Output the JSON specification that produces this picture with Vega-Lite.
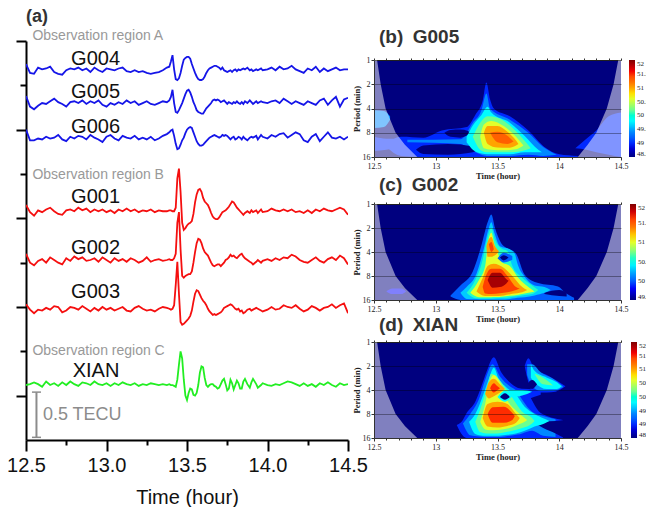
{"$schema":"https://vega.github.io/schema/vega-lite/v6.json","padding":{"left":6,"top":8,"right":0,"bottom":0},"background":"white","config":{"view":{"stroke":null},"font":"Liberation Sans"},"spacing":-16,"resolve":{"scale":{"color":"independent"},"legend":{"color":"independent"}},"datasets":{
"lines":[
{"t":12.5,"G004":4.24,"G005":3.88,"G006":3.5,"G001":2.65,"G002":2.1,"G003":1.53,"XIAN":0.62},
{"t":12.525,"G004":4.14,"G005":3.76,"G006":3.38,"G001":2.57,"G002":2.0,"G003":1.47,"XIAN":0.63},
{"t":12.55,"G004":4.13,"G005":3.73,"G006":3.38,"G001":2.53,"G002":1.97,"G003":1.43,"XIAN":0.65},
{"t":12.575,"G004":4.2,"G005":3.77,"G006":3.4,"G001":2.59,"G002":2.02,"G003":1.47,"XIAN":0.63},
{"t":12.6,"G004":4.18,"G005":3.8,"G006":3.39,"G001":2.57,"G002":2.04,"G003":1.46,"XIAN":0.6},
{"t":12.625,"G004":4.19,"G005":3.79,"G006":3.42,"G001":2.6,"G002":2.0,"G003":1.49,"XIAN":0.66},
{"t":12.65,"G004":4.21,"G005":3.82,"G006":3.4,"G001":2.62,"G002":2.06,"G003":1.47,"XIAN":0.62},
{"t":12.675,"G004":4.15,"G005":3.85,"G006":3.41,"G001":2.58,"G002":2.03,"G003":1.51,"XIAN":0.64},
{"t":12.7,"G004":4.13,"G005":3.81,"G006":3.44,"G001":2.55,"G002":2.0,"G003":1.5,"XIAN":0.61},
{"t":12.725,"G004":4.12,"G005":3.79,"G006":3.39,"G001":2.54,"G002":1.98,"G003":1.44,"XIAN":0.65},
{"t":12.75,"G004":4.17,"G005":3.76,"G006":3.37,"G001":2.59,"G002":2.05,"G003":1.46,"XIAN":0.62},
{"t":12.775,"G004":4.19,"G005":3.81,"G006":3.42,"G001":2.6,"G002":2.02,"G003":1.5,"XIAN":0.66},
{"t":12.8,"G004":4.18,"G005":3.82,"G006":3.4,"G001":2.58,"G002":2.07,"G003":1.49,"XIAN":0.63},
{"t":12.825,"G004":4.2,"G005":3.8,"G006":3.43,"G001":2.62,"G002":2.04,"G003":1.47,"XIAN":0.61},
{"t":12.85,"G004":4.17,"G005":3.83,"G006":3.42,"G001":2.59,"G002":2.06,"G003":1.51,"XIAN":0.65},
{"t":12.875,"G004":4.19,"G005":3.79,"G006":3.39,"G001":2.61,"G002":2.02,"G003":1.48,"XIAN":0.64},
{"t":12.9,"G004":4.15,"G005":3.82,"G006":3.44,"G001":2.57,"G002":2.03,"G003":1.45,"XIAN":0.62},
{"t":12.925,"G004":4.2,"G005":3.8,"G006":3.41,"G001":2.6,"G002":2.05,"G003":1.49,"XIAN":0.66},
{"t":12.95,"G004":4.17,"G005":3.83,"G006":3.39,"G001":2.58,"G002":2.01,"G003":1.46,"XIAN":0.63},
{"t":12.975,"G004":4.15,"G005":3.78,"G006":3.36,"G001":2.6,"G002":2.06,"G003":1.5,"XIAN":0.62},
{"t":13.0,"G004":4.19,"G005":3.76,"G006":3.42,"G001":2.57,"G002":2.03,"G003":1.47,"XIAN":0.64},
{"t":13.025,"G004":4.18,"G005":3.8,"G006":3.44,"G001":2.59,"G002":2.0,"G003":1.49,"XIAN":0.61},
{"t":13.05,"G004":4.17,"G005":3.78,"G006":3.4,"G001":2.56,"G002":2.05,"G003":1.46,"XIAN":0.64},
{"t":13.075,"G004":4.19,"G005":3.81,"G006":3.38,"G001":2.6,"G002":2.02,"G003":1.48,"XIAN":0.62},
{"t":13.1,"G004":4.2,"G005":3.79,"G006":3.43,"G001":2.58,"G002":2.04,"G003":1.5,"XIAN":0.65},
{"t":13.125,"G004":4.16,"G005":3.83,"G006":3.41,"G001":2.61,"G002":2.01,"G003":1.46,"XIAN":0.63},
{"t":13.15,"G004":4.15,"G005":3.8,"G006":3.4,"G001":2.58,"G002":2.05,"G003":1.45,"XIAN":0.62},
{"t":13.175,"G004":4.17,"G005":3.82,"G006":3.43,"G001":2.6,"G002":2.03,"G003":1.49,"XIAN":0.64},
{"t":13.2,"G004":4.15,"G005":3.78,"G006":3.39,"G001":2.57,"G002":2.0,"G003":1.51,"XIAN":0.61},
{"t":13.225,"G004":4.16,"G005":3.8,"G006":3.41,"G001":2.59,"G002":2.02,"G003":1.48,"XIAN":0.63},
{"t":13.25,"G004":4.14,"G005":3.82,"G006":3.39,"G001":2.58,"G002":2.06,"G003":1.46,"XIAN":0.62},
{"t":13.275,"G004":4.13,"G005":3.79,"G006":3.42,"G001":2.6,"G002":2.01,"G003":1.47,"XIAN":0.64},
{"t":13.3,"G004":4.14,"G005":3.78,"G006":3.38,"G001":2.57,"G002":2.03,"G003":1.45,"XIAN":0.63},
{"t":13.325,"G004":4.15,"G005":3.8,"G006":3.4,"G001":2.59,"G002":2.04,"G003":1.48,"XIAN":0.62},
{"t":13.35,"G004":4.17,"G005":3.82,"G006":3.43,"G001":2.58,"G002":2.02,"G003":1.5,"XIAN":0.63},
{"t":13.375,"G004":4.2,"G005":3.81,"G006":3.45,"G001":2.58,"G002":2.03,"G003":1.49,"XIAN":0.62},
{"t":13.39,"G004":4.21,"G005":3.83,"G006":3.47,"G001":2.59,"G002":2.04,"G003":1.48,"XIAN":0.63},
{"t":13.4,"G004":4.27,"G005":3.87,"G006":3.49,"G001":2.59,"G002":2.03,"G003":1.47,"XIAN":0.62},
{"t":13.41,"G004":4.34,"G005":3.95,"G006":3.5,"G001":2.58,"G002":2.03,"G003":1.48,"XIAN":0.62},
{"t":13.42,"G004":4.18,"G005":3.8,"G006":3.43,"G001":2.58,"G002":2.05,"G003":1.52,"XIAN":0.61},
{"t":13.43,"G004":4.07,"G005":3.7,"G006":3.34,"G001":2.62,"G002":2.1,"G003":1.75,"XIAN":0.6},
{"t":13.44,"G004":4.06,"G005":3.69,"G006":3.28,"G001":2.95,"G002":2.45,"G003":2.01,"XIAN":0.68},
{"t":13.45,"G004":4.08,"G005":3.72,"G006":3.29,"G001":3.06,"G002":2.57,"G003":1.65,"XIAN":0.85},
{"t":13.46,"G004":4.14,"G005":3.76,"G006":3.33,"G001":2.8,"G002":2.15,"G003":1.33,"XIAN":1.0},
{"t":13.47,"G004":4.22,"G005":3.8,"G006":3.38,"G001":2.45,"G002":1.85,"G003":1.3,"XIAN":0.92},
{"t":13.48,"G004":4.29,"G005":3.85,"G006":3.41,"G001":2.37,"G002":1.83,"G003":1.31,"XIAN":0.68},
{"t":13.49,"G004":4.31,"G005":3.9,"G006":3.46,"G001":2.39,"G002":1.85,"G003":1.33,"XIAN":0.5},
{"t":13.5,"G004":4.32,"G005":3.94,"G006":3.5,"G001":2.42,"G002":1.86,"G003":1.35,"XIAN":0.45},
{"t":13.51,"G004":4.32,"G005":3.95,"G006":3.52,"G001":2.44,"G002":1.87,"G003":1.37,"XIAN":0.53},
{"t":13.52,"G004":4.3,"G005":3.92,"G006":3.53,"G001":2.45,"G002":1.87,"G003":1.4,"XIAN":0.58},
{"t":13.53,"G004":4.24,"G005":3.87,"G006":3.52,"G001":2.47,"G002":1.9,"G003":1.46,"XIAN":0.57},
{"t":13.54,"G004":4.19,"G005":3.81,"G006":3.47,"G001":2.55,"G002":2.0,"G003":1.56,"XIAN":0.51},
{"t":13.55,"G004":4.14,"G005":3.77,"G006":3.42,"G001":2.68,"G002":2.12,"G003":1.65,"XIAN":0.5},
{"t":13.56,"G004":4.1,"G005":3.72,"G006":3.37,"G001":2.77,"G002":2.22,"G003":1.69,"XIAN":0.53},
{"t":13.57,"G004":4.07,"G005":3.7,"G006":3.34,"G001":2.82,"G002":2.27,"G003":1.68,"XIAN":0.62},
{"t":13.58,"G004":4.06,"G005":3.69,"G006":3.32,"G001":2.83,"G002":2.26,"G003":1.64,"XIAN":0.76},
{"t":13.59,"G004":4.06,"G005":3.68,"G006":3.32,"G001":2.8,"G002":2.22,"G003":1.6,"XIAN":0.83},
{"t":13.6,"G004":4.07,"G005":3.68,"G006":3.33,"G001":2.73,"G002":2.16,"G003":1.57,"XIAN":0.82},
{"t":13.61,"G004":4.1,"G005":3.71,"G006":3.35,"G001":2.69,"G002":2.12,"G003":1.55,"XIAN":0.7},
{"t":13.62,"G004":4.14,"G005":3.74,"G006":3.37,"G001":2.67,"G002":2.1,"G003":1.52,"XIAN":0.62},
{"t":13.63,"G004":4.17,"G005":3.76,"G006":3.39,"G001":2.65,"G002":2.08,"G003":1.48,"XIAN":0.6},
{"t":13.64,"G004":4.19,"G005":3.78,"G006":3.41,"G001":2.61,"G002":2.04,"G003":1.45,"XIAN":0.62},
{"t":13.65,"G004":4.2,"G005":3.8,"G006":3.42,"G001":2.56,"G002":2.0,"G003":1.43,"XIAN":0.63},
{"t":13.66,"G004":4.21,"G005":3.83,"G006":3.43,"G001":2.52,"G002":1.97,"G003":1.41,"XIAN":0.63},
{"t":13.67,"G004":4.22,"G005":3.84,"G006":3.44,"G001":2.5,"G002":1.96,"G003":1.42,"XIAN":0.61},
{"t":13.68,"G004":4.22,"G005":3.83,"G006":3.43,"G001":2.49,"G002":1.97,"G003":1.41,"XIAN":0.6},
{"t":13.69,"G004":4.21,"G005":3.84,"G006":3.42,"G001":2.49,"G002":1.98,"G003":1.42,"XIAN":0.58},
{"t":13.7,"G004":4.2,"G005":3.83,"G006":3.41,"G001":2.51,"G002":1.98,"G003":1.43,"XIAN":0.59},
{"t":13.71,"G004":4.18,"G005":3.81,"G006":3.42,"G001":2.54,"G002":1.96,"G003":1.44,"XIAN":0.63},
{"t":13.72,"G004":4.2,"G005":3.82,"G006":3.44,"G001":2.57,"G002":1.98,"G003":1.46,"XIAN":0.67},
{"t":13.73,"G004":4.17,"G005":3.83,"G006":3.43,"G001":2.58,"G002":2.0,"G003":1.49,"XIAN":0.69},
{"t":13.74,"G004":4.16,"G005":3.81,"G006":3.44,"G001":2.59,"G002":2.03,"G003":1.5,"XIAN":0.63},
{"t":13.75,"G004":4.15,"G005":3.79,"G006":3.43,"G001":2.61,"G002":2.04,"G003":1.51,"XIAN":0.56},
{"t":13.76,"G004":4.16,"G005":3.81,"G006":3.41,"G001":2.63,"G002":2.06,"G003":1.52,"XIAN":0.58},
{"t":13.77,"G004":4.17,"G005":3.8,"G006":3.39,"G001":2.66,"G002":2.09,"G003":1.53,"XIAN":0.68},
{"t":13.78,"G004":4.15,"G005":3.79,"G006":3.41,"G001":2.69,"G002":2.07,"G003":1.52,"XIAN":0.64},
{"t":13.79,"G004":4.17,"G005":3.81,"G006":3.42,"G001":2.68,"G002":2.08,"G003":1.5,"XIAN":0.57},
{"t":13.8,"G004":4.18,"G005":3.8,"G006":3.39,"G001":2.65,"G002":2.06,"G003":1.48,"XIAN":0.62},
{"t":13.81,"G004":4.16,"G005":3.82,"G006":3.4,"G001":2.62,"G002":2.05,"G003":1.47,"XIAN":0.67},
{"t":13.82,"G004":4.18,"G005":3.8,"G006":3.42,"G001":2.6,"G002":2.07,"G003":1.48,"XIAN":0.64},
{"t":13.83,"G004":4.17,"G005":3.79,"G006":3.41,"G001":2.58,"G002":2.09,"G003":1.45,"XIAN":0.58},
{"t":13.84,"G004":4.18,"G005":3.81,"G006":3.39,"G001":2.56,"G002":2.1,"G003":1.46,"XIAN":0.58},
{"t":13.85,"G004":4.19,"G005":3.79,"G006":3.42,"G001":2.54,"G002":2.07,"G003":1.43,"XIAN":0.66},
{"t":13.86,"G004":4.18,"G005":3.82,"G006":3.4,"G001":2.56,"G002":2.05,"G003":1.44,"XIAN":0.69},
{"t":13.875,"G004":4.2,"G005":3.8,"G006":3.38,"G001":2.58,"G002":2.03,"G003":1.47,"XIAN":0.63},
{"t":13.89,"G004":4.17,"G005":3.83,"G006":3.41,"G001":2.56,"G002":2.01,"G003":1.48,"XIAN":0.59},
{"t":13.9,"G004":4.18,"G005":3.81,"G006":3.42,"G001":2.59,"G002":2.0,"G003":1.46,"XIAN":0.65},
{"t":13.91,"G004":4.16,"G005":3.79,"G006":3.41,"G001":2.57,"G002":1.98,"G003":1.47,"XIAN":0.69},
{"t":13.93,"G004":4.18,"G005":3.82,"G006":3.43,"G001":2.59,"G002":2.01,"G003":1.49,"XIAN":0.63},
{"t":13.94,"G004":4.17,"G005":3.8,"G006":3.39,"G001":2.56,"G002":2.03,"G003":1.48,"XIAN":0.59},
{"t":13.96,"G004":4.19,"G005":3.82,"G006":3.44,"G001":2.6,"G002":2.0,"G003":1.46,"XIAN":0.62},
{"t":13.97,"G004":4.17,"G005":3.81,"G006":3.42,"G001":2.57,"G002":2.02,"G003":1.45,"XIAN":0.64},
{"t":14.0,"G004":4.18,"G005":3.8,"G006":3.4,"G001":2.58,"G002":2.04,"G003":1.47,"XIAN":0.62},
{"t":14.025,"G004":4.2,"G005":3.82,"G006":3.44,"G001":2.61,"G002":2.02,"G003":1.5,"XIAN":0.61},
{"t":14.05,"G004":4.17,"G005":3.83,"G006":3.42,"G001":2.59,"G002":2.05,"G003":1.47,"XIAN":0.63},
{"t":14.075,"G004":4.21,"G005":3.8,"G006":3.45,"G001":2.58,"G002":2.03,"G003":1.48,"XIAN":0.62},
{"t":14.1,"G004":4.18,"G005":3.85,"G006":3.46,"G001":2.6,"G002":2.06,"G003":1.52,"XIAN":0.64},
{"t":14.125,"G004":4.19,"G005":3.82,"G006":3.41,"G001":2.58,"G002":2.05,"G003":1.5,"XIAN":0.66},
{"t":14.15,"G004":4.22,"G005":3.79,"G006":3.44,"G001":2.6,"G002":2.09,"G003":1.49,"XIAN":0.65},
{"t":14.175,"G004":4.18,"G005":3.82,"G006":3.47,"G001":2.57,"G002":2.07,"G003":1.52,"XIAN":0.63},
{"t":14.2,"G004":4.16,"G005":3.8,"G006":3.45,"G001":2.58,"G002":2.03,"G003":1.48,"XIAN":0.61},
{"t":14.225,"G004":4.14,"G005":3.78,"G006":3.38,"G001":2.56,"G002":2.01,"G003":1.45,"XIAN":0.64},
{"t":14.25,"G004":4.19,"G005":3.82,"G006":3.36,"G001":2.59,"G002":2.0,"G003":1.47,"XIAN":0.61},
{"t":14.275,"G004":4.17,"G005":3.8,"G006":3.42,"G001":2.56,"G002":2.03,"G003":1.51,"XIAN":0.63},
{"t":14.3,"G004":4.21,"G005":3.78,"G006":3.45,"G001":2.6,"G002":2.06,"G003":1.49,"XIAN":0.6},
{"t":14.325,"G004":4.15,"G005":3.83,"G006":3.37,"G001":2.58,"G002":2.02,"G003":1.46,"XIAN":0.64},
{"t":14.35,"G004":4.19,"G005":3.85,"G006":3.42,"G001":2.61,"G002":2.0,"G003":1.49,"XIAN":0.62},
{"t":14.375,"G004":4.16,"G005":3.78,"G006":3.47,"G001":2.59,"G002":2.04,"G003":1.5,"XIAN":0.65},
{"t":14.4,"G004":4.18,"G005":3.83,"G006":3.41,"G001":2.58,"G002":2.06,"G003":1.53,"XIAN":0.62},
{"t":14.425,"G004":4.2,"G005":3.87,"G006":3.4,"G001":2.6,"G002":2.03,"G003":1.49,"XIAN":0.6},
{"t":14.45,"G004":4.17,"G005":3.76,"G006":3.42,"G001":2.62,"G002":2.08,"G003":1.52,"XIAN":0.64},
{"t":14.475,"G004":4.18,"G005":3.84,"G006":3.39,"G001":2.6,"G002":2.05,"G003":1.54,"XIAN":0.62},
{"t":14.5,"G004":4.18,"G005":3.86,"G006":3.42,"G001":2.54,"G002":1.98,"G003":1.43,"XIAN":0.63}],
"txt":[
{"t":12.5,"v":4.77,"s":"(a)","k":"a"},
{"t":12.54,"v":4.56,"s":"Observation region A","k":"r"},
{"t":12.54,"v":2.99,"s":"Observation region B","k":"r"},
{"t":12.54,"v":1.0,"s":"Observation region C","k":"r"},
{"t":12.78,"v":4.3,"s":"G004","k":"g"},
{"t":12.78,"v":3.92,"s":"G005","k":"g"},
{"t":12.78,"v":3.53,"s":"G006","k":"g"},
{"t":12.78,"v":2.74,"s":"G001","k":"g"},
{"t":12.78,"v":2.17,"s":"G002","k":"g"},
{"t":12.78,"v":1.67,"s":"G003","k":"g"},
{"t":12.79,"v":0.78,"s":"XIAN","k":"g"},
{"t":12.605,"v":0.28,"s":"0.5 TECU","k":"s"}],
"coi":[
{"t":12.5,"p":1},{"t":12.525,"p":1},{"t":12.554,"p":2},{"t":12.594,"p":4},{"t":12.675,"p":8},{"t":12.75,"p":11.3},{"t":12.85,"p":16},
{"t":14.15,"p":16},{"t":14.23,"p":11.3},{"t":14.3,"p":8},{"t":14.385,"p":4},{"t":14.44,"p":2},{"t":14.478,"p":1},{"t":14.5,"p":1}],
"b":[
{"id":"a","t":12.5,"top":4.2,"bot":7,"v":49.4},{"id":"a","t":12.58,"top":4.3,"bot":6.8,"v":49.4},{"id":"a","t":12.63,"top":5,"bot":5.5,"v":49.4},
{"id":"b","t":12.5,"top":9,"bot":13.5,"v":49},{"id":"b","t":12.6,"top":9.5,"bot":13,"v":49},{"id":"b","t":12.72,"top":9.5,"bot":12,"v":49},
{"id":"c","t":14.13,"top":12.5,"bot":12.5,"v":49},{"id":"c","t":14.22,"top":9.5,"bot":13,"v":49},{"id":"c","t":14.3,"top":7.5,"bot":14,"v":49},{"id":"c","t":14.4,"top":5,"bot":15,"v":49},{"id":"c","t":14.5,"top":4.5,"bot":16,"v":49},
{"id":"d","t":12.6,"top":11,"bot":12,"v":49},{"id":"d","t":12.72,"top":9,"bot":15.5,"v":49},{"id":"d","t":12.9,"top":9.2,"bot":16,"v":49},{"id":"d","t":13.05,"top":7.5,"bot":16,"v":49},{"id":"d","t":13.25,"top":6.8,"bot":16,"v":49},{"id":"d","t":13.32,"top":4.8,"bot":16,"v":49},{"id":"d","t":13.38,"top":3.2,"bot":16,"v":49},{"id":"d","t":13.41,"top":1.9,"bot":16,"v":49},{"id":"d","t":13.44,"top":3.1,"bot":16,"v":49},{"id":"d","t":13.47,"top":4,"bot":16,"v":49},{"id":"d","t":13.6,"top":5,"bot":16,"v":49},{"id":"d","t":13.75,"top":7.5,"bot":16,"v":49},{"id":"d","t":13.88,"top":12,"bot":16,"v":49},{"id":"d","t":14,"top":14.8,"bot":16,"v":49},{"id":"d","t":14.15,"top":15.5,"bot":16,"v":49},
{"id":"e","t":12.77,"top":9.8,"bot":10.5,"v":49.4},{"id":"e","t":13.2,"top":9.6,"bot":11,"v":49.4},{"id":"e","t":13.3,"top":6,"bot":13.5,"v":49.4},{"id":"e","t":13.37,"top":4.2,"bot":15,"v":49.4},{"id":"e","t":13.41,"top":2.6,"bot":15.5,"v":49.4},{"id":"e","t":13.44,"top":4,"bot":15.5,"v":49.4},{"id":"e","t":13.6,"top":5.5,"bot":15.5,"v":49.4},{"id":"e","t":13.75,"top":8,"bot":15,"v":49.4},{"id":"e","t":13.87,"top":12,"bot":15.5,"v":49.4},{"id":"e","t":13.98,"top":15,"bot":15,"v":49.4},
{"id":"f","t":12.84,"top":13,"bot":13,"v":48.5},{"id":"f","t":12.9,"top":11.5,"bot":14.7,"v":48.5},{"id":"f","t":13.1,"top":11,"bot":15,"v":48.5},{"id":"f","t":13.3,"top":11.8,"bot":14,"v":48.5},{"id":"f","t":13.34,"top":12.7,"bot":12.7,"v":48.5},
{"id":"g","t":13.07,"top":8,"bot":8,"v":48.5},{"id":"g","t":13.12,"top":7.4,"bot":9,"v":48.5},{"id":"g","t":13.2,"top":7.3,"bot":9.2,"v":48.5},{"id":"g","t":13.26,"top":7.6,"bot":8.5,"v":48.5},{"id":"g","t":13.28,"top":8,"bot":8,"v":48.5},
{"id":"h","t":13.25,"top":9,"bot":10.5,"v":49.8},{"id":"h","t":13.3,"top":6.5,"bot":13,"v":49.8},{"id":"h","t":13.37,"top":4.8,"bot":14.5,"v":49.8},{"id":"h","t":13.42,"top":3.8,"bot":14.8,"v":49.8},{"id":"h","t":13.45,"top":4.5,"bot":14.8,"v":49.8},{"id":"h","t":13.6,"top":6,"bot":14.8,"v":49.8},{"id":"h","t":13.72,"top":8.8,"bot":14,"v":49.8},{"id":"h","t":13.83,"top":13,"bot":14,"v":49.8},{"id":"h","t":13.86,"top":14,"bot":14,"v":49.8},
{"id":"i","t":13.3,"top":9,"bot":9,"v":50.2},{"id":"i","t":13.36,"top":6,"bot":13,"v":50.2},{"id":"i","t":13.42,"top":5,"bot":14,"v":50.2},{"id":"i","t":13.5,"top":5.2,"bot":14,"v":50.2},{"id":"i","t":13.6,"top":6.5,"bot":14,"v":50.2},{"id":"i","t":13.7,"top":9.3,"bot":13.5,"v":50.2},{"id":"i","t":13.77,"top":12.5,"bot":12.5,"v":50.2},
{"id":"j","t":13.36,"top":9,"bot":9,"v":50.6},{"id":"j","t":13.39,"top":6.3,"bot":12.5,"v":50.6},{"id":"j","t":13.45,"top":5.7,"bot":13,"v":50.6},{"id":"j","t":13.55,"top":6.6,"bot":13.2,"v":50.6},{"id":"j","t":13.65,"top":9,"bot":12.8,"v":50.6},{"id":"j","t":13.71,"top":11.5,"bot":11.5,"v":50.6},
{"id":"k","t":13.39,"top":8,"bot":8,"v":51},{"id":"k","t":13.42,"top":6.6,"bot":11,"v":51},{"id":"k","t":13.5,"top":6.6,"bot":12.2,"v":51},{"id":"k","t":13.58,"top":7.8,"bot":12.3,"v":51},{"id":"k","t":13.65,"top":10,"bot":11.5,"v":51},{"id":"k","t":13.67,"top":11,"bot":11,"v":51},
{"id":"l","t":13.44,"top":8,"bot":8,"v":51.3},{"id":"l","t":13.5,"top":7.8,"bot":10.5,"v":51.3},{"id":"l","t":13.58,"top":8.7,"bot":11,"v":51.3},{"id":"l","t":13.63,"top":10.3,"bot":10.3,"v":51.3}],
"c":[
{"id":"a","t":12.6,"top":12.5,"bot":12.5,"v":49.8},{"id":"a","t":12.65,"top":11.5,"bot":13.5,"v":49.8},{"id":"a","t":12.72,"top":11.5,"bot":13.5,"v":49.8},{"id":"a","t":12.76,"top":12.5,"bot":12.5,"v":49.8},
{"id":"b","t":13.12,"top":14,"bot":14.5,"v":50},{"id":"b","t":13.2,"top":10.5,"bot":16,"v":50},{"id":"b","t":13.3,"top":7,"bot":16,"v":50},{"id":"b","t":13.37,"top":3.3,"bot":16,"v":50},{"id":"b","t":13.42,"top":1.7,"bot":16,"v":50},{"id":"b","t":13.45,"top":1.35,"bot":16,"v":50},{"id":"b","t":13.48,"top":2,"bot":16,"v":50},{"id":"b","t":13.53,"top":3.1,"bot":16,"v":50},{"id":"b","t":13.58,"top":3.6,"bot":16,"v":50},{"id":"b","t":13.65,"top":4.2,"bot":16,"v":50},{"id":"b","t":13.72,"top":7.7,"bot":16,"v":50},{"id":"b","t":13.83,"top":9.8,"bot":16,"v":50},{"id":"b","t":13.99,"top":10.8,"bot":16,"v":50},{"id":"b","t":14.05,"top":13,"bot":16,"v":50},{"id":"b","t":14.12,"top":15,"bot":16,"v":50},
{"id":"c","t":13.88,"top":13,"bot":13.5,"v":49.5},{"id":"c","t":14,"top":12,"bot":14.3,"v":49.5},{"id":"c","t":14.06,"top":13,"bot":14.5,"v":49.5},
{"id":"d","t":13.2,"top":13,"bot":13,"v":50.3},{"id":"d","t":13.25,"top":11,"bot":15.5,"v":50.3},{"id":"d","t":13.33,"top":7.5,"bot":15.7,"v":50.3},{"id":"d","t":13.39,"top":3.6,"bot":15.8,"v":50.3},{"id":"d","t":13.43,"top":2,"bot":15.8,"v":50.3},{"id":"d","t":13.45,"top":1.7,"bot":15.8,"v":50.3},{"id":"d","t":13.475,"top":2.3,"bot":15.8,"v":50.3},{"id":"d","t":13.52,"top":3.4,"bot":15.8,"v":50.3},{"id":"d","t":13.6,"top":3.7,"bot":15.5,"v":50.3},{"id":"d","t":13.64,"top":4.2,"bot":15.2,"v":50.3},{"id":"d","t":13.66,"top":5.5,"bot":15,"v":50.3},{"id":"d","t":13.72,"top":8.2,"bot":14.8,"v":50.3},{"id":"d","t":13.8,"top":10.5,"bot":14,"v":50.3},{"id":"d","t":13.88,"top":11,"bot":13,"v":50.3},{"id":"d","t":13.93,"top":12,"bot":12,"v":50.3},
{"id":"e","t":13.25,"top":13,"bot":13,"v":50.6},{"id":"e","t":13.32,"top":9,"bot":15.2,"v":50.6},{"id":"e","t":13.38,"top":5,"bot":15.3,"v":50.6},{"id":"e","t":13.41,"top":3,"bot":15.3,"v":50.6},{"id":"e","t":13.45,"top":2,"bot":15.3,"v":50.6},{"id":"e","t":13.48,"top":2.8,"bot":15.2,"v":50.6},{"id":"e","t":13.53,"top":3.6,"bot":15,"v":50.6},{"id":"e","t":13.58,"top":3.9,"bot":15,"v":50.6},{"id":"e","t":13.62,"top":6,"bot":14.6,"v":50.6},{"id":"e","t":13.7,"top":8.4,"bot":14,"v":50.6},{"id":"e","t":13.78,"top":10.5,"bot":13.5,"v":50.6},{"id":"e","t":13.83,"top":12,"bot":12,"v":50.6},
{"id":"f","t":13.28,"top":13,"bot":13,"v":51},{"id":"f","t":13.35,"top":9,"bot":14.8,"v":51},{"id":"f","t":13.4,"top":6,"bot":14.8,"v":51},{"id":"f","t":13.42,"top":3.3,"bot":14.8,"v":51},{"id":"f","t":13.45,"top":2.3,"bot":14.8,"v":51},{"id":"f","t":13.475,"top":3.2,"bot":14.7,"v":51},{"id":"f","t":13.5,"top":4,"bot":14.7,"v":51},{"id":"f","t":13.53,"top":5.3,"bot":14.6,"v":51},{"id":"f","t":13.6,"top":6,"bot":14.2,"v":51},{"id":"f","t":13.67,"top":8.5,"bot":13.7,"v":51},{"id":"f","t":13.75,"top":11,"bot":13,"v":51},{"id":"f","t":13.8,"top":12.5,"bot":12.5,"v":51},
{"id":"g","t":13.41,"top":3.4,"bot":3.4,"v":51.3},{"id":"g","t":13.42,"top":3,"bot":4.6,"v":51.3},{"id":"g","t":13.45,"top":2.6,"bot":4.6,"v":51.3},{"id":"g","t":13.48,"top":3.4,"bot":4.4,"v":51.3},{"id":"g","t":13.51,"top":3.9,"bot":4,"v":51.3},
{"id":"h","t":13.33,"top":12.5,"bot":12.5,"v":51.3},{"id":"h","t":13.38,"top":8.5,"bot":14,"v":51.3},{"id":"h","t":13.42,"top":6,"bot":14.3,"v":51.3},{"id":"h","t":13.47,"top":5.6,"bot":14.3,"v":51.3},{"id":"h","t":13.55,"top":6.3,"bot":14,"v":51.3},{"id":"h","t":13.62,"top":8,"bot":13.4,"v":51.3},{"id":"h","t":13.7,"top":11,"bot":12.8,"v":51.3},{"id":"h","t":13.74,"top":12,"bot":12,"v":51.3},
{"id":"i","t":13.43,"top":3.2,"bot":3.2,"v":51.6},{"id":"i","t":13.45,"top":3,"bot":4,"v":51.6},{"id":"i","t":13.47,"top":3.7,"bot":3.7,"v":51.6},
{"id":"j","t":13.38,"top":11,"bot":11,"v":51.6},{"id":"j","t":13.4,"top":8.5,"bot":13.3,"v":51.6},{"id":"j","t":13.45,"top":6.5,"bot":13.5,"v":51.6},{"id":"j","t":13.52,"top":6.5,"bot":13.2,"v":51.6},{"id":"j","t":13.58,"top":8,"bot":12.8,"v":51.6},{"id":"j","t":13.65,"top":11,"bot":12,"v":51.6},{"id":"j","t":13.68,"top":11.5,"bot":11.5,"v":51.6},
{"id":"k","t":13.42,"top":9,"bot":9,"v":51.9},{"id":"k","t":13.46,"top":7.3,"bot":11.2,"v":51.9},{"id":"k","t":13.52,"top":7.3,"bot":11,"v":51.9},{"id":"k","t":13.57,"top":8.7,"bot":10,"v":51.9},{"id":"k","t":13.59,"top":9.2,"bot":9.2,"v":51.9},
{"id":"l","t":13.5,"top":4.8,"bot":4.8,"v":50},{"id":"l","t":13.55,"top":4.1,"bot":5.4,"v":50},{"id":"l","t":13.62,"top":4.5,"bot":5,"v":50},
{"id":"m","t":13.52,"top":4.7,"bot":4.7,"v":49.5},{"id":"m","t":13.55,"top":4.4,"bot":5.1,"v":49.5},{"id":"m","t":13.59,"top":4.7,"bot":4.7,"v":49.5}],
"d":[
{"id":"a","t":13.17,"top":11,"bot":11,"v":49},{"id":"a","t":13.22,"top":9.5,"bot":15,"v":49},{"id":"a","t":13.25,"top":7.8,"bot":16,"v":49},{"id":"a","t":13.32,"top":5.6,"bot":16,"v":49},{"id":"a","t":13.37,"top":3.6,"bot":16,"v":49},{"id":"a","t":13.41,"top":2.4,"bot":16,"v":49},{"id":"a","t":13.47,"top":1.55,"bot":16,"v":49},{"id":"a","t":13.53,"top":2.4,"bot":16,"v":49},{"id":"a","t":13.59,"top":3.1,"bot":16,"v":49},{"id":"a","t":13.67,"top":3.8,"bot":16,"v":49},{"id":"a","t":13.72,"top":4,"bot":16,"v":49},{"id":"a","t":13.85,"top":7.8,"bot":16,"v":49},{"id":"a","t":14.03,"top":9.5,"bot":16,"v":49},
{"id":"b","t":13.72,"top":2,"bot":2,"v":49},{"id":"b","t":13.75,"top":1.6,"bot":3.2,"v":49},{"id":"b","t":13.8,"top":2.2,"bot":4.3,"v":49},{"id":"b","t":13.9,"top":2.6,"bot":4.3,"v":49},{"id":"b","t":13.97,"top":3,"bot":4.2,"v":49},{"id":"b","t":14.05,"top":3.6,"bot":3.6,"v":49},
{"id":"c","t":13.65,"top":3.8,"bot":6,"v":49},{"id":"c","t":13.75,"top":3.9,"bot":5.2,"v":49},{"id":"c","t":13.85,"top":4,"bot":4.6,"v":49},
{"id":"e","t":13.22,"top":10.5,"bot":10.5,"v":49.4},{"id":"e","t":13.28,"top":8,"bot":14.8,"v":49.4},{"id":"e","t":13.35,"top":5.2,"bot":15.3,"v":49.4},{"id":"e","t":13.4,"top":3,"bot":15.5,"v":49.4},{"id":"e","t":13.46,"top":1.9,"bot":15.5,"v":49.4},{"id":"e","t":13.52,"top":2.7,"bot":15.5,"v":49.4},{"id":"e","t":13.6,"top":3.6,"bot":15,"v":49.4},{"id":"e","t":13.66,"top":4.2,"bot":14.5,"v":49.4},{"id":"e","t":13.7,"top":5.3,"bot":14,"v":49.4},{"id":"e","t":13.78,"top":7.5,"bot":13,"v":49.4},{"id":"e","t":13.87,"top":8.5,"bot":15,"v":49.4},{"id":"e","t":13.97,"top":9.3,"bot":15.5,"v":49.4},
{"id":"f","t":13.8,"top":10.4,"bot":10.4,"v":48.5},{"id":"f","t":13.87,"top":10,"bot":12,"v":48.5},{"id":"f","t":13.97,"top":9.8,"bot":14,"v":48.5},{"id":"f","t":14.04,"top":9.5,"bot":16,"v":48.5},
{"id":"g","t":13.74,"top":1.9,"bot":2.6,"v":49.4},{"id":"g","t":13.78,"top":1.9,"bot":3.6,"v":49.4},{"id":"g","t":13.85,"top":2.4,"bot":4.1,"v":49.4},{"id":"g","t":13.95,"top":2.9,"bot":4.1,"v":49.4},{"id":"g","t":14.03,"top":3.6,"bot":3.7,"v":49.4},
{"id":"h","t":13.77,"top":1.9,"bot":2.8,"v":49.8},{"id":"h","t":13.8,"top":2.3,"bot":3.2,"v":49.8},{"id":"h","t":13.9,"top":2.8,"bot":3.9,"v":49.8},{"id":"h","t":13.98,"top":3.2,"bot":3.9,"v":49.8},{"id":"h","t":14.02,"top":3.6,"bot":3.6,"v":49.8},
{"id":"i","t":13.8,"top":2.5,"bot":2.5,"v":50.2},{"id":"i","t":13.87,"top":2.8,"bot":3.4,"v":50.2},{"id":"i","t":13.95,"top":3.5,"bot":3.5,"v":50.2},
{"id":"j","t":13.74,"top":3.4,"bot":3.4,"v":48.5},{"id":"j","t":13.78,"top":3,"bot":3.9,"v":48.5},{"id":"j","t":13.82,"top":3.4,"bot":3.4,"v":48.5},
{"id":"k","t":13.27,"top":10,"bot":10,"v":49.8},{"id":"k","t":13.32,"top":8,"bot":14.3,"v":49.8},{"id":"k","t":13.38,"top":4.8,"bot":15,"v":49.8},{"id":"k","t":13.43,"top":2.9,"bot":15,"v":49.8},{"id":"k","t":13.47,"top":2.1,"bot":15,"v":49.8},{"id":"k","t":13.51,"top":2.9,"bot":15,"v":49.8},{"id":"k","t":13.58,"top":3.8,"bot":14.6,"v":49.8},{"id":"k","t":13.65,"top":4.6,"bot":14,"v":49.8},{"id":"k","t":13.72,"top":6.5,"bot":13,"v":49.8},{"id":"k","t":13.8,"top":8,"bot":11.5,"v":49.8},{"id":"k","t":13.88,"top":9.2,"bot":10.5,"v":49.8},{"id":"k","t":13.92,"top":9.8,"bot":9.8,"v":49.8},
{"id":"l","t":13.6,"top":4,"bot":5,"v":49.8},{"id":"l","t":13.7,"top":4,"bot":4.7,"v":49.8},{"id":"l","t":13.78,"top":4.2,"bot":4.2,"v":49.8},
{"id":"m","t":13.32,"top":10,"bot":10,"v":50.2},{"id":"m","t":13.36,"top":7,"bot":13.5,"v":50.2},{"id":"m","t":13.41,"top":4,"bot":14,"v":50.2},{"id":"m","t":13.45,"top":2.5,"bot":14,"v":50.2},{"id":"m","t":13.5,"top":2.8,"bot":14,"v":50.2},{"id":"m","t":13.56,"top":3.7,"bot":13.6,"v":50.2},{"id":"m","t":13.62,"top":5,"bot":13,"v":50.2},{"id":"m","t":13.7,"top":7.5,"bot":12,"v":50.2},{"id":"m","t":13.78,"top":9,"bot":10.5,"v":50.2},{"id":"m","t":13.8,"top":9.8,"bot":9.8,"v":50.2},
{"id":"n","t":13.36,"top":10,"bot":10,"v":50.6},{"id":"n","t":13.4,"top":6,"bot":12.5,"v":50.6},{"id":"n","t":13.44,"top":3,"bot":12.8,"v":50.6},{"id":"n","t":13.47,"top":2.6,"bot":12.8,"v":50.6},{"id":"n","t":13.52,"top":3.2,"bot":12.6,"v":50.6},{"id":"n","t":13.58,"top":5.4,"bot":12.2,"v":50.6},{"id":"n","t":13.66,"top":7.5,"bot":11,"v":50.6},{"id":"n","t":13.72,"top":9,"bot":10,"v":50.6},{"id":"n","t":13.74,"top":9.5,"bot":9.5,"v":50.6},
{"id":"o","t":13.4,"top":4.5,"bot":4.5,"v":51},{"id":"o","t":13.43,"top":3.2,"bot":5.1,"v":51},{"id":"o","t":13.47,"top":2.9,"bot":4.8,"v":51},{"id":"o","t":13.52,"top":3.4,"bot":4.3,"v":51},{"id":"o","t":13.56,"top":3.9,"bot":3.9,"v":51},
{"id":"p","t":13.38,"top":9,"bot":9,"v":51},{"id":"p","t":13.42,"top":6,"bot":11.5,"v":51},{"id":"p","t":13.5,"top":5.6,"bot":11.8,"v":51},{"id":"p","t":13.58,"top":6,"bot":11.3,"v":51},{"id":"p","t":13.65,"top":8,"bot":10.3,"v":51},{"id":"p","t":13.68,"top":9,"bot":9,"v":51},
{"id":"q","t":13.44,"top":3.8,"bot":3.8,"v":51.5},{"id":"q","t":13.47,"top":3.3,"bot":4.3,"v":51.5},{"id":"q","t":13.5,"top":3.6,"bot":4,"v":51.5},{"id":"q","t":13.52,"top":3.8,"bot":3.8,"v":51.5},
{"id":"r","t":13.42,"top":8,"bot":8,"v":51.5},{"id":"r","t":13.46,"top":6.6,"bot":10.3,"v":51.5},{"id":"r","t":13.55,"top":6.5,"bot":10.3,"v":51.5},{"id":"r","t":13.62,"top":7.8,"bot":9.5,"v":51.5},{"id":"r","t":13.64,"top":8.5,"bot":8.5,"v":51.5},
{"id":"s","t":13.5,"top":4.9,"bot":4.9,"v":49.8},{"id":"s","t":13.56,"top":4.1,"bot":5.6,"v":49.8},{"id":"s","t":13.62,"top":4.8,"bot":4.8,"v":49.8},
{"id":"u","t":13.52,"top":4.9,"bot":4.9,"v":48.5},{"id":"u","t":13.56,"top":4.4,"bot":5.3,"v":48.5},{"id":"u","t":13.6,"top":4.9,"bot":4.9,"v":48.5}]
},
"hconcat":[
{"width":322,"height":399,"layer":[
{"data":{"name":"lines"},"transform":[{"fold":["G004","G005","G006","G001","G002","G003","XIAN"],"as":["s","v"]}],"mark":{"type":"line","strokeWidth":1.8,"clip":true},"encoding":{
"x":{"field":"t","type":"quantitative","scale":{"domain":[12.5,14.5],"nice":false},"axis":{"values":[12.5,12.75,13,13.25,13.5,13.75,14,14.25,14.5],"labelExpr":"datum.value*2%1==0 ? format(datum.value,'.1f') : ''","grid":false,"labelFontSize":20,"labelFont":"Liberation Sans","labelColor":"#111","labelPadding":4,"labelOverlap":false,"labelBound":false,"labelFlush":false,"title":"Time (hour)","titleFontSize":20,"titleFont":"Liberation Sans","titleFontWeight":"normal","titleColor":"#111","titlePadding":12,"domainColor":"black","domainWidth":2,"tickColor":"black","tickWidth":2,"tickSize":{"condition":{"test":"datum.value*2%1==0","value":11},"value":5}}},
"y":{"field":"v","type":"quantitative","scale":{"domain":[0,4.5],"nice":false,"zero":false},"axis":{"values":[0.5,1,1.5,2,2.5,3,3.5,4,4.5],"labels":false,"grid":false,"title":null,"domainColor":"black","domainWidth":2,"tickColor":"black","tickWidth":2,"tickSize":{"condition":{"test":"datum.value%1==0.5","value":10},"value":6}}},
"color":{"field":"s","type":"nominal","legend":null,"scale":{"domain":["G004","G005","G006","G001","G002","G003","XIAN"],"range":["#1515e8","#1515e8","#1515e8","#f50f0f","#f50f0f","#f50f0f","#22ee22"]}},
"detail":{"field":"s"}}},
{"data":{"values":[{"t":12.565,"lo":0.03,"hi":0.54}]},"mark":{"type":"rule","color":"#8c8c8c","strokeWidth":2},"encoding":{"x":{"field":"t","type":"quantitative"},"y":{"field":"lo","type":"quantitative"},"y2":{"field":"hi"}}},
{"data":{"values":[{"a":12.537,"b":12.593,"y":0.03},{"a":12.537,"b":12.593,"y":0.54}]},"mark":{"type":"rule","color":"#8c8c8c","strokeWidth":1.5},"encoding":{"x":{"field":"a","type":"quantitative"},"x2":{"field":"b"},"y":{"field":"y","type":"quantitative"}}},
{"data":{"name":"txt"},"transform":[{"filter":"datum.k=='r'"}],"mark":{"type":"text","align":"left","baseline":"middle","fontSize":14,"color":"#999999","font":"Liberation Sans"},"encoding":{"x":{"field":"t","type":"quantitative"},"y":{"field":"v","type":"quantitative"},"text":{"field":"s"}}},
{"data":{"name":"txt"},"transform":[{"filter":"datum.k=='g'"}],"mark":{"type":"text","align":"left","baseline":"middle","fontSize":20,"color":"#111111","font":"Liberation Sans"},"encoding":{"x":{"field":"t","type":"quantitative"},"y":{"field":"v","type":"quantitative"},"text":{"field":"s"}}},
{"data":{"name":"txt"},"transform":[{"filter":"datum.k=='s'"}],"mark":{"type":"text","align":"left","baseline":"middle","fontSize":18,"color":"#8c8c8c","font":"Liberation Sans"},"encoding":{"x":{"field":"t","type":"quantitative"},"y":{"field":"v","type":"quantitative"},"text":{"field":"s"}}},
{"data":{"name":"txt"},"transform":[{"filter":"datum.k=='a'"}],"mark":{"type":"text","align":"left","baseline":"middle","fontSize":18,"fontWeight":"bold","color":"#333333","font":"Liberation Sans"},"encoding":{"x":{"field":"t","type":"quantitative"},"y":{"field":"v","type":"quantitative"},"text":{"field":"s"}}}
]},
{"spacing":-17,"resolve":{"scale":{"color":"independent"},"legend":{"color":"independent"}},"vconcat":[
{"width":247,"height":1,"data":{"values":[{"a":1}]},"mark":{"type":"point","opacity":0},"encoding":{}},
{"spacing":-7,"resolve":{"scale":{"color":"independent"},"legend":{"color":"independent"}},"vconcat":[
{"spacing":-4,"resolve":{"scale":{"color":"independent"},"legend":{"color":"independent"}},"vconcat":[
{"width":247,"height":97,"view":{"fill":"#00007f","stroke":null},"title":{"text":"(b)\u2002G005","anchor":"start","frame":"group","fontSize":19,"font":"Liberation Sans","fontWeight":"bold","color":"#333333","offset":9,"dx":5},"layer":[
{"data":{"name":"b"},"mark":{"type":"area","orient":"vertical","interpolate":"monotone","clip":true},"encoding":{
"x":{"field":"t","type":"quantitative","scale":{"domain":[12.5,14.5],"nice":false},"axis":{"values":[12.5,12.6,12.7,12.8,12.9,13,13.1,13.2,13.3,13.4,13.5,13.6,13.7,13.8,13.9,14,14.1,14.2,14.3,14.4,14.5],"labelExpr":"datum.value*2%1==0 ? datum.value : ''","grid":false,"labelOverlap":false,"labelFlush":false,"labelBound":false,"labelFont":"Liberation Serif","labelFontSize":8,"labelColor":"#222","labelPadding":2,"title":"Time (hour)","titleFont":"Liberation Serif","titleFontSize":8.5,"titleFontWeight":"bold","titleColor":"#222","titlePadding":1,"tickColor":"#333","domainColor":"#333","tickSize":{"condition":{"test":"datum.value*2%1==0","value":3},"value":2},"zindex":1}},
"y":{"field":"top","type":"quantitative","scale":{"type":"log","base":2,"domain":[1,16],"reverse":true,"nice":false},"axis":{"values":[1,2,4,8,16],"labelFont":"Liberation Serif","labelFontSize":8,"labelColor":"#222","labelPadding":1,"title":"Period (min)","titleFont":"Liberation Serif","titleFontSize":8.5,"titleFontWeight":"bold","titleColor":"#222","titlePadding":1,"tickSize":3,"tickColor":"#333","domainColor":"#333","grid":true,"gridColor":"#000","gridOpacity":0.45,"gridWidth":0.8,"zindex":1}},
"y2":{"field":"bot"},
"color":{"field":"v","type":"quantitative","scale":{"domain":[48.5,48.9375,49.375,49.8125,50.25,50.6875,51.125,51.5625,52],"range":["#00007f","#0000ff","#007fff","#00ffff","#7fff7f","#ffff00","#ff7f00","#ff0000","#7f0000"]},"legend":{"title":null,"values":[48.5,49,49.5,50,50.5,51,51.5,52],"format":".1~f","gradientLength":97,"gradientThickness":6,"labelFont":"Liberation Serif","labelFontSize":7,"labelColor":"#222","offset":8,"padding":0}},
"detail":{"field":"id"}}},
{"data":{"name":"coi"},"mark":{"type":"area","orient":"vertical","color":"white","opacity":0.5,"clip":true},"encoding":{"x":{"field":"t","type":"quantitative","axis":{"orient":"top","values":[12.5,12.6,12.7,12.8,12.9,13,13.1,13.2,13.3,13.4,13.5,13.6,13.7,13.8,13.9,14,14.1,14.2,14.3,14.4,14.5],"labels":false,"title":null,"grid":false,"tickColor":"#333","domainColor":"#333","tickSize":2}},"y":{"field":"p","type":"quantitative"},"y2":{"datum":16}}}
],"resolve":{"axis":{"x":"independent"}}},
{"width":247,"height":96,"view":{"fill":"#00007f","stroke":null},"title":{"text":"(c)\u2002G002","anchor":"start","frame":"group","fontSize":19,"font":"Liberation Sans","fontWeight":"bold","color":"#333333","offset":5,"dx":5},"layer":[
{"data":{"name":"c"},"mark":{"type":"area","orient":"vertical","interpolate":"monotone","clip":true},"encoding":{
"x":{"field":"t","type":"quantitative","scale":{"domain":[12.5,14.5],"nice":false},"axis":{"values":[12.5,12.6,12.7,12.8,12.9,13,13.1,13.2,13.3,13.4,13.5,13.6,13.7,13.8,13.9,14,14.1,14.2,14.3,14.4,14.5],"labelExpr":"datum.value*2%1==0 ? datum.value : ''","grid":false,"labelOverlap":false,"labelFlush":false,"labelBound":false,"labelFont":"Liberation Serif","labelFontSize":8,"labelColor":"#222","labelPadding":2,"title":"Time (hour)","titleFont":"Liberation Serif","titleFontSize":8.5,"titleFontWeight":"bold","titleColor":"#222","titlePadding":1,"tickColor":"#333","domainColor":"#333","tickSize":{"condition":{"test":"datum.value*2%1==0","value":3},"value":2},"zindex":1}},
"y":{"field":"top","type":"quantitative","scale":{"type":"log","base":2,"domain":[1,16],"reverse":true,"nice":false},"axis":{"values":[1,2,4,8,16],"labelFont":"Liberation Serif","labelFontSize":8,"labelColor":"#222","labelPadding":1,"title":"Period (min)","titleFont":"Liberation Serif","titleFontSize":8.5,"titleFontWeight":"bold","titleColor":"#222","titlePadding":1,"tickSize":3,"tickColor":"#333","domainColor":"#333","grid":true,"gridColor":"#000","gridOpacity":0.45,"gridWidth":0.8,"zindex":1}},
"y2":{"field":"bot"},
"color":{"field":"v","type":"quantitative","scale":{"domain":[49.5,49.8125,50.125,50.4375,50.75,51.0625,51.375,51.6875,52],"range":["#00007f","#0000ff","#007fff","#00ffff","#7fff7f","#ffff00","#ff7f00","#ff0000","#7f0000"]},"legend":{"title":null,"values":[49.5,50,50.5,51,51.5,52],"format":".1~f","gradientLength":96,"gradientThickness":6,"labelFont":"Liberation Serif","labelFontSize":7,"labelColor":"#222","offset":9,"padding":0}},
"detail":{"field":"id"}}},
{"data":{"name":"coi"},"mark":{"type":"area","orient":"vertical","color":"white","opacity":0.5,"clip":true},"encoding":{"x":{"field":"t","type":"quantitative","axis":{"orient":"top","values":[12.5,12.6,12.7,12.8,12.9,13,13.1,13.2,13.3,13.4,13.5,13.6,13.7,13.8,13.9,14,14.1,14.2,14.3,14.4,14.5],"labels":false,"title":null,"grid":false,"tickColor":"#333","domainColor":"#333","tickSize":2}},"y":{"field":"p","type":"quantitative"},"y2":{"datum":16}}}
],"resolve":{"axis":{"x":"independent"}}}
]},
{"width":247,"height":96,"view":{"fill":"#00007f","stroke":null},"title":{"text":"(d)\u2002XIAN","anchor":"start","frame":"group","fontSize":19,"font":"Liberation Sans","fontWeight":"bold","color":"#333333","offset":3,"dx":5},"layer":[
{"data":{"name":"d"},"mark":{"type":"area","orient":"vertical","interpolate":"monotone","clip":true},"encoding":{
"x":{"field":"t","type":"quantitative","scale":{"domain":[12.5,14.5],"nice":false},"axis":{"values":[12.5,12.6,12.7,12.8,12.9,13,13.1,13.2,13.3,13.4,13.5,13.6,13.7,13.8,13.9,14,14.1,14.2,14.3,14.4,14.5],"labelExpr":"datum.value*2%1==0 ? datum.value : ''","grid":false,"labelOverlap":false,"labelFlush":false,"labelBound":false,"labelFont":"Liberation Serif","labelFontSize":8,"labelColor":"#222","labelPadding":2,"title":"Time (hour)","titleFont":"Liberation Serif","titleFontSize":8.5,"titleFontWeight":"bold","titleColor":"#222","titlePadding":1,"tickColor":"#333","domainColor":"#333","tickSize":{"condition":{"test":"datum.value*2%1==0","value":3},"value":2},"zindex":1}},
"y":{"field":"top","type":"quantitative","scale":{"type":"log","base":2,"domain":[1,16],"reverse":true,"nice":false},"axis":{"values":[1,2,4,8,16],"labelFont":"Liberation Serif","labelFontSize":8,"labelColor":"#222","labelPadding":1,"title":"Period (min)","titleFont":"Liberation Serif","titleFontSize":8.5,"titleFontWeight":"bold","titleColor":"#222","titlePadding":1,"tickSize":3,"tickColor":"#333","domainColor":"#333","grid":true,"gridColor":"#000","gridOpacity":0.45,"gridWidth":0.8,"zindex":1}},
"y2":{"field":"bot"},
"color":{"field":"v","type":"quantitative","scale":{"domain":[48.5,48.9375,49.375,49.8125,50.25,50.6875,51.125,51.5625,52],"range":["#00007f","#0000ff","#007fff","#00ffff","#7fff7f","#ffff00","#ff7f00","#ff0000","#7f0000"]},"legend":{"title":null,"values":[48.5,49,49.5,50,50.5,51,51.5,52],"format":".1~f","gradientLength":96,"gradientThickness":6,"labelFont":"Liberation Serif","labelFontSize":7,"labelColor":"#222","offset":10,"padding":0}},
"detail":{"field":"id"}}},
{"data":{"name":"coi"},"mark":{"type":"area","orient":"vertical","color":"white","opacity":0.5,"clip":true},"encoding":{"x":{"field":"t","type":"quantitative","axis":{"orient":"top","values":[12.5,12.6,12.7,12.8,12.9,13,13.1,13.2,13.3,13.4,13.5,13.6,13.7,13.8,13.9,14,14.1,14.2,14.3,14.4,14.5],"labels":false,"title":null,"grid":false,"tickColor":"#333","domainColor":"#333","tickSize":2}},"y":{"field":"p","type":"quantitative"},"y2":{"datum":16}}}
],"resolve":{"axis":{"x":"independent"}}}
]}
]}
]}
